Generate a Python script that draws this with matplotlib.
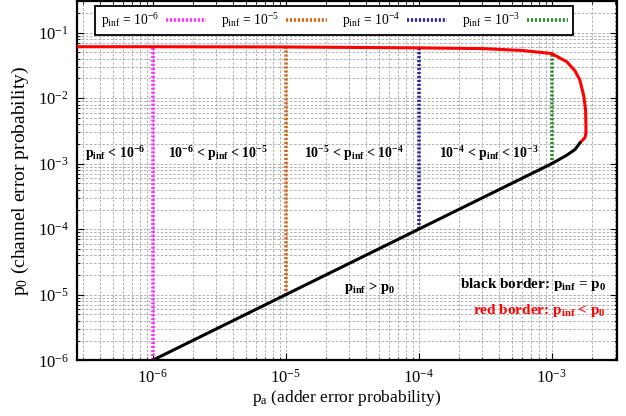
import numpy as np
import matplotlib.pyplot as plt
from matplotlib.lines import Line2D

plt.rcParams['font.family'] = ['Liberation Serif', 'DejaVu Serif']
plt.rcParams['mathtext.fontset'] = 'custom'
plt.rcParams['mathtext.rm'] = 'Liberation Serif'
plt.rcParams['mathtext.it'] = 'Liberation Serif:italic'
plt.rcParams['mathtext.bf'] = 'Liberation Serif:bold'
plt.rcParams['mathtext.default'] = 'regular'

# black border (p_inf = p0)
pa_black = [1e-6, 1e-5, 1e-4, 1e-3, 1.3e-3, 1.5e-3, 1.63e-3]
p0_black = [1e-6, 1e-5, 1e-4, 1.0e-3, 1.35e-3, 1.65e-3, 2.07e-3]

# red border (p_inf < p0)
pa_red = [2.7e-7, 1e-6, 1e-5, 1e-4, 3e-4, 6e-4, 1e-3, 1.3e-3, 1.5e-3, 1.63e-3,
          1.75e-3, 1.8e-3, 1.81e-3, 1.81e-3, 1.78e-3, 1.63e-3]
p0_red = [0.061, 0.061, 0.0605, 0.0586, 0.0572, 0.0535, 0.048, 0.036, 0.026, 0.019,
          0.0105, 0.0065, 0.004, 0.0029, 0.0025, 0.00207]

# p_inf iso-lines
pinf_vals = [1e-6, 1e-5, 1e-4, 1e-3]
pinf_tops = [0.061, 0.0605, 0.0586, 0.048]
pinf_labels = [r'p$_{inf}$ = 10$^{-6}$', r'p$_{inf}$ = 10$^{-5}$',
               r'p$_{inf}$ = 10$^{-4}$', r'p$_{inf}$ = 10$^{-3}$']
pinf_colors = ['#ff33ff', '#d2691e', '#2a2aa0', '#2e8b2e']

fig = plt.figure(figsize=(6.26, 4.16), dpi=100)
ax = fig.add_axes([0.123, 0.134, 0.8626, 0.8626])

handles = []
for v, top, lab, c in zip(pinf_vals, pinf_tops, pinf_labels, pinf_colors):
    ax.plot([v, v], [v, top], color=c, lw=2.6, ls=(0, (0.6, 0.5)), zorder=3)
    handles.append(Line2D([], [], color=c, lw=2.6, ls=(0, (0.6, 0.5)), label=lab))

ax.plot(pa_red, p0_red, color='red', lw=2.2, zorder=4, solid_capstyle='butt')
ax.plot(pa_black, p0_black, color='black', lw=2.2, zorder=4)

ax.set_xscale('log')
ax.set_yscale('log')
ax.set_xlim(2.7e-7, 3.1e-3)
ax.set_ylim(1e-6, 0.3)
ax.set_xticks([1e-6, 1e-5, 1e-4, 1e-3])
ax.set_yticks([1e-6, 1e-5, 1e-4, 1e-3, 1e-2, 1e-1])
ax.set_xticklabels([r'10$^{-6}$', r'10$^{-5}$', r'10$^{-4}$', r'10$^{-3}$'])
ax.set_yticklabels([r'10$^{-6}$', r'10$^{-5}$', r'10$^{-4}$', r'10$^{-3}$',
                    r'10$^{-2}$', r'10$^{-1}$'])
ax.tick_params(which='both', direction='in', top=True, right=True, labelsize=12)
ax.tick_params(which='major', length=5, pad=6)
ax.tick_params(which='minor', length=2.5)
ax.grid(True, which='both', color='#a4a4a4', ls=(0, (3, 2)), lw=0.6)
for s in ax.spines.values():
    s.set_linewidth(1.6)

ax.set_xlabel(r'p$_a$ (adder error probability)', fontsize=12.5, labelpad=1)
ax.set_ylabel(r'p$_0$ (channel error probability)', fontsize=14, labelpad=5)

leg = ax.legend(handles=handles, ncol=4, loc='upper center', bbox_to_anchor=(0.4766, 0.996),
                markerfirst=False, fancybox=False, framealpha=1, edgecolor='black',
                fontsize=9.8, handlelength=3.0, columnspacing=1.1, borderpad=0.4,
                handletextpad=0.5, borderaxespad=0.2)
leg.get_frame().set_linewidth(1.3)
leg.set_zorder(10)

bold = dict(fontweight='bold', transform=ax.transData, va='center', zorder=6)
ax.text(5.2e-7, 1.45e-3, r'$\mathbf{p_{inf}}$ < 10$^{\mathbf{-6}}$', ha='center', fontsize=10, **bold)
ax.text(3.1e-6, 1.45e-3, r'10$^{\mathbf{-6}}$ < $\mathbf{p_{inf}}$ < 10$^{\mathbf{-5}}$', ha='center', fontsize=10, **bold)
ax.text(3.25e-5, 1.45e-3, r'10$^{\mathbf{-5}}$ < $\mathbf{p_{inf}}$ < 10$^{\mathbf{-4}}$', ha='center', fontsize=10, **bold)
ax.text(3.36e-4, 1.45e-3, r'10$^{\mathbf{-4}}$ < $\mathbf{p_{inf}}$ < 10$^{\mathbf{-3}}$', ha='center', fontsize=10, **bold)
ax.text(4.3e-5, 1.25e-5, r'$\mathbf{p_{inf}}$ > $\mathbf{p_0}$', ha='center', fontsize=10.5, **bold)
ax.text(2.57e-3, 1.45e-5, r'black border: $\mathbf{p_{inf}}$ = $\mathbf{p_0}$', ha='right', fontsize=11, **bold)
ax.text(2.57e-3, 5.7e-6, r'red border: $\mathbf{p_{inf}}$ < $\mathbf{p_0}$', ha='right',
        color='red', fontsize=11, **bold)

fig.savefig('out.png', dpi=100)
